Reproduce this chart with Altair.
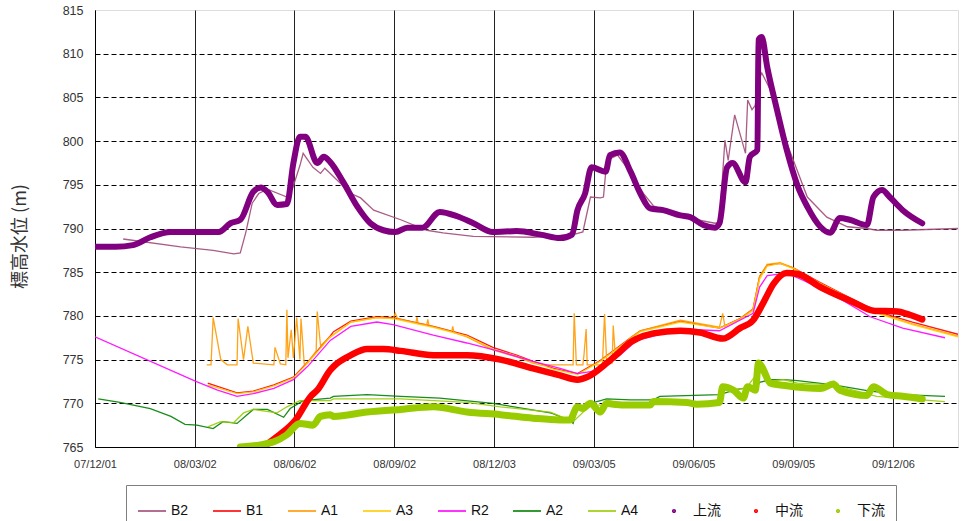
import altair as alt
import pandas as pd

# Series names (legend order) and their colours
SERIES = ["B2", "B1", "A1", "A3", "R2", "A2", "A4", "上流", "中流", "下流"]
COLORS = ["#A04A78", "#FF0000", "#FF9900", "#FFCC00", "#FF00FF",
          "#008000", "#99CC00", "#800080", "#FF0000", "#99CC00"]
THIN = SERIES[:7]
THICK = SERIES[7:]

# Axis ticks
Y_TICKS = [765, 770, 775, 780, 785, 790, 795, 800, 805, 810, 815]
X_TICKS = ["2007-12-01", "2008-03-02", "2008-06-02", "2008-09-02", "2008-12-03",
           "2009-03-05", "2009-06-05", "2009-09-05", "2009-12-06"]
X_DOMAIN = ["2007-12-01", "2010-02-04"]

# Observed water levels (date, elevation m)
b2 = [("2007-12-27", 788.8), ("2008-02-18", 787.9), ("2008-03-19", 787.5), ("2008-04-07", 787.1),
      ("2008-04-13", 787.2), ("2008-04-18", 789.5), ("2008-04-24", 792.9), ("2008-04-30", 794.0),
      ("2008-05-08", 794.5), ("2008-05-26", 793.6), ("2008-05-31", 794.5), ("2008-06-07", 797.2),
      ("2008-06-10", 798.6), ("2008-06-19", 797.0), ("2008-06-26", 796.3), ("2008-06-30", 796.9),
      ("2008-07-24", 794.0), ("2008-08-02", 793.5), ("2008-08-14", 792.1), ("2008-09-08", 791.0),
      ("2008-10-02", 789.8), ("2008-10-17", 789.5), ("2008-11-14", 789.1), ("2009-01-08", 789.0),
      ("2009-02-14", 789.3), ("2009-02-23", 789.6), ("2009-03-02", 793.6), ("2009-03-11", 793.5),
      ("2009-03-14", 793.6), ("2009-03-17", 797.8), ("2009-03-27", 798.4), ("2009-04-08", 796.4),
      ("2009-04-20", 794.0), ("2009-04-29", 792.6), ("2009-05-08", 792.2), ("2009-05-30", 791.4),
      ("2009-06-08", 791.0), ("2009-06-25", 790.6), ("2009-06-29", 790.7), ("2009-07-04", 800.1),
      ("2009-07-07", 797.8), ("2009-07-13", 803.0), ("2009-07-23", 798.6), ("2009-07-25", 804.7),
      ("2009-07-29", 803.6), ("2009-08-01", 804.1), ("2009-08-04", 807.0), ("2009-08-07", 807.8),
      ("2009-08-18", 805.1), ("2009-08-30", 799.8), ("2009-09-18", 793.6), ("2009-10-06", 791.3),
      ("2009-10-25", 790.2), ("2009-11-12", 790.0), ("2009-11-21", 789.8), ("2009-12-15", 789.8),
      ("2010-02-04", 790.0)]

b1 = [("2008-03-14", 772.3), ("2008-04-10", 771.2), ("2008-04-25", 771.4), ("2008-05-14", 772.1),
      ("2008-06-01", 773.0), ("2008-06-14", 774.7), ("2008-07-05", 777.7), ("2008-07-08", 778.2),
      ("2008-07-24", 779.4), ("2008-08-17", 779.9), ("2008-09-01", 779.8), ("2008-10-08", 778.8),
      ("2008-11-08", 777.8), ("2008-12-02", 776.4), ("2008-12-24", 775.5), ("2009-01-08", 774.8),
      ("2009-01-27", 774.0), ("2009-02-18", 773.4), ("2009-03-11", 774.9), ("2009-04-08", 777.5),
      ("2009-04-17", 778.3), ("2009-05-24", 779.4), ("2009-06-29", 778.6), ("2009-07-18", 779.7),
      ("2009-07-30", 780.8), ("2009-08-05", 784.5), ("2009-08-12", 785.8), ("2009-08-24", 786.0),
      ("2009-09-05", 785.5), ("2009-09-30", 783.8), ("2009-10-30", 781.9), ("2009-11-24", 780.4),
      ("2009-12-24", 779.3), ("2010-02-04", 777.9)]

a1 = [("2008-03-13", 774.4), ("2008-03-17", 774.4), ("2008-03-19", 779.8), ("2008-03-26", 775.0),
      ("2008-04-01", 774.4), ("2008-04-10", 774.4), ("2008-04-11", 779.7), ("2008-04-16", 775.0),
      ("2008-04-20", 778.8), ("2008-04-25", 774.6), ("2008-05-14", 774.4), ("2008-05-15", 776.4),
      ("2008-05-20", 774.5), ("2008-05-25", 774.4), ("2008-05-26", 780.7), ("2008-05-27", 775.2),
      ("2008-05-30", 778.4), ("2008-06-01", 775.2), ("2008-06-04", 779.8), ("2008-06-07", 775.0),
      ("2008-06-08", 779.7), ("2008-06-11", 774.5), ("2008-06-14", 774.6), ("2008-06-22", 776.0),
      ("2008-06-23", 780.5), ("2008-06-26", 776.6), ("2008-07-05", 777.6), ("2008-07-24", 779.3),
      ("2008-08-17", 779.8), ("2008-09-01", 779.7), ("2008-09-03", 780.3), ("2008-09-05", 779.7),
      ("2008-09-22", 779.2), ("2008-09-23", 779.9), ("2008-09-24", 779.1), ("2008-10-02", 779.0),
      ("2008-10-03", 779.6), ("2008-10-04", 778.9), ("2008-10-25", 778.2), ("2008-10-26", 778.8),
      ("2008-10-27", 778.1), ("2008-11-08", 777.6), ("2008-12-02", 776.1), ("2008-12-24", 775.3),
      ("2009-01-08", 774.6), ("2009-01-15", 774.4), ("2009-02-14", 774.4), ("2009-02-15", 780.3),
      ("2009-02-17", 774.4), ("2009-02-23", 774.4), ("2009-02-24", 775.5), ("2009-02-26", 778.5),
      ("2009-02-27", 774.4), ("2009-03-13", 774.4), ("2009-03-15", 780.2), ("2009-03-17", 774.6),
      ("2009-03-22", 774.6), ("2009-03-23", 778.9), ("2009-03-25", 775.3), ("2009-04-08", 777.5),
      ("2009-04-17", 778.3), ("2009-05-24", 779.5), ("2009-06-29", 778.7), ("2009-07-02", 780.3),
      ("2009-07-04", 778.8), ("2009-07-18", 779.7), ("2009-07-30", 780.8), ("2009-08-05", 784.5),
      ("2009-08-12", 785.9), ("2009-08-24", 786.1), ("2009-09-05", 785.5), ("2009-09-30", 783.7),
      ("2009-10-30", 781.8), ("2009-11-24", 780.3), ("2009-12-24", 779.1), ("2010-02-04", 777.7)]

a3 = [("2008-03-14", 772.1), ("2008-04-10", 771.1), ("2008-04-25", 771.3), ("2008-05-14", 772.0),
      ("2008-06-01", 772.9), ("2008-06-14", 774.6), ("2008-07-05", 777.6), ("2008-07-24", 779.3),
      ("2008-08-17", 779.8), ("2008-09-01", 779.7), ("2008-10-08", 778.7), ("2008-11-08", 777.7),
      ("2008-12-02", 776.2), ("2008-12-24", 775.4), ("2009-01-08", 774.7), ("2009-01-27", 773.9),
      ("2009-02-18", 773.3), ("2009-03-11", 774.8), ("2009-04-08", 777.4), ("2009-04-17", 778.2),
      ("2009-05-24", 779.3), ("2009-06-29", 778.6), ("2009-07-18", 779.6), ("2009-07-30", 780.6),
      ("2009-08-05", 784.2), ("2009-08-12", 785.7), ("2009-08-24", 786.0), ("2009-09-05", 785.4),
      ("2009-09-30", 783.7), ("2009-10-30", 781.8), ("2009-11-24", 780.2), ("2009-12-24", 779.0),
      ("2010-02-04", 777.6)]

r2 = [("2007-12-01", 777.6), ("2008-03-03", 772.5), ("2008-03-23", 771.5), ("2008-04-10", 770.8),
      ("2008-04-25", 771.1), ("2008-05-14", 771.7), ("2008-06-01", 772.7), ("2008-06-14", 774.2),
      ("2008-07-05", 777.2), ("2008-07-24", 778.8), ("2008-08-17", 779.3), ("2008-09-01", 779.0),
      ("2008-10-08", 777.8), ("2008-11-08", 776.9), ("2008-12-09", 775.9), ("2009-01-08", 774.8),
      ("2009-02-02", 774.0), ("2009-02-18", 773.4), ("2009-03-11", 773.8), ("2009-03-29", 775.5),
      ("2009-04-14", 777.2), ("2009-05-24", 778.5), ("2009-06-29", 778.3), ("2009-07-30", 780.3),
      ("2009-08-05", 783.3), ("2009-08-12", 784.6), ("2009-08-30", 784.9), ("2009-09-14", 784.1),
      ("2009-10-15", 782.2), ("2009-11-15", 779.9), ("2009-12-15", 778.6), ("2010-01-23", 777.5)]

a2 = [("2007-12-04", 770.5), ("2007-12-24", 770.1), ("2008-01-21", 769.4), ("2008-02-09", 768.5),
      ("2008-02-22", 767.6), ("2008-03-04", 767.5), ("2008-03-19", 767.1), ("2008-03-28", 767.9),
      ("2008-04-10", 767.7), ("2008-04-25", 769.3), ("2008-05-08", 769.3), ("2008-05-23", 768.4),
      ("2008-05-29", 769.4), ("2008-06-10", 770.3), ("2008-07-05", 770.6), ("2008-07-08", 770.8),
      ("2008-08-08", 771.0), ("2008-09-08", 770.8), ("2008-10-14", 770.6), ("2008-12-02", 770.0),
      ("2009-01-24", 768.9), ("2009-01-27", 768.8), ("2009-02-11", 768.0), ("2009-02-14", 767.7),
      ("2009-02-18", 769.6), ("2009-03-02", 770.0), ("2009-03-17", 770.5), ("2009-04-08", 770.4),
      ("2009-04-29", 770.4), ("2009-05-05", 770.8), ("2009-06-29", 771.0), ("2009-07-15", 771.6),
      ("2009-08-03", 771.9), ("2009-08-05", 772.4), ("2009-08-15", 772.7), ("2009-08-27", 772.7),
      ("2009-09-09", 772.6), ("2009-10-12", 772.1), ("2009-11-15", 771.4), ("2009-12-15", 771.0),
      ("2010-01-23", 770.8)]

a4 = [("2008-03-14", 767.3), ("2008-03-26", 767.9), ("2008-04-07", 767.8), ("2008-04-16", 768.9),
      ("2008-04-25", 769.3), ("2008-05-17", 768.9), ("2008-05-26", 769.6), ("2008-06-07", 770.3),
      ("2008-06-17", 770.3), ("2008-07-05", 770.3), ("2008-07-08", 770.5), ("2008-09-08", 770.5),
      ("2008-11-08", 770.1), ("2008-12-09", 769.6), ("2009-01-24", 769.0), ("2009-02-14", 767.9),
      ("2009-03-02", 769.8), ("2009-03-14", 769.8), ("2009-03-17", 770.2), ("2009-04-08", 770.0),
      ("2009-06-29", 770.0), ("2009-07-02", 771.9), ("2009-07-12", 771.5), ("2009-07-24", 771.8),
      ("2009-08-05", 773.8), ("2009-08-12", 772.5), ("2009-08-27", 772.7), ("2009-09-09", 772.3),
      ("2009-10-12", 772.1), ("2009-11-21", 770.8), ("2010-01-23", 770.2)]

upstream = [("2007-12-01", 787.9), ("2007-12-20", 787.9), ("2008-01-05", 788.1), ("2008-01-21", 789.0),
            ("2008-02-09", 789.6), ("2008-03-24", 789.6), ("2008-04-04", 790.6), ("2008-04-13", 791.0),
            ("2008-04-25", 794.2), ("2008-05-02", 794.7), ("2008-05-08", 794.2), ("2008-05-17", 792.7),
            ("2008-05-26", 792.8), ("2008-06-01", 797.5), ("2008-06-07", 800.5), ("2008-06-12", 800.5),
            ("2008-06-23", 797.5), ("2008-06-29", 798.2), ("2008-07-05", 797.6), ("2008-07-17", 795.3),
            ("2008-07-30", 792.5), ("2008-08-11", 790.6), ("2008-08-23", 789.8), ("2008-09-03", 789.6),
            ("2008-09-14", 790.1), ("2008-09-28", 790.1), ("2008-10-14", 791.9), ("2008-10-30", 791.4),
            ("2008-11-14", 790.6), ("2008-12-02", 789.6), ("2008-12-24", 789.7), ("2009-01-15", 789.3),
            ("2009-02-02", 788.9), ("2009-02-13", 789.3), ("2009-02-18", 792.1), ("2009-02-25", 794.0),
            ("2009-03-03", 797.0), ("2009-03-16", 796.5), ("2009-03-20", 798.4), ("2009-03-29", 798.7),
            ("2009-04-08", 796.5), ("2009-04-17", 794.0), ("2009-04-26", 792.3), ("2009-05-08", 792.1),
            ("2009-05-24", 791.5), ("2009-06-02", 791.3), ("2009-06-14", 790.4), ("2009-06-25", 790.1),
            ("2009-06-29", 790.6), ("2009-07-06", 797.0), ("2009-07-11", 797.5), ("2009-07-23", 795.3),
            ("2009-07-27", 798.2), ("2009-08-03", 799.0), ("2009-08-04", 811.6), ("2009-08-07", 811.9),
            ("2009-08-12", 808.5), ("2009-08-21", 803.6), ("2009-08-30", 799.0), ("2009-09-09", 794.9),
            ("2009-09-18", 792.5), ("2009-09-30", 790.2), ("2009-10-09", 789.5), ("2009-10-18", 791.2),
            ("2009-10-27", 791.0), ("2009-11-12", 790.4), ("2009-11-18", 793.6), ("2009-11-26", 794.4),
            ("2009-12-03", 793.6), ("2009-12-15", 792.1), ("2010-01-02", 790.6)]

midstream = [("2008-05-04", 765.0), ("2008-05-17", 766.2), ("2008-06-03", 768.1), ("2008-06-17", 770.8),
             ("2008-06-23", 771.5), ("2008-07-05", 773.8), ("2008-07-08", 774.2), ("2008-07-24", 775.5),
             ("2008-08-08", 776.2), ("2008-08-23", 776.2), ("2008-09-08", 776.0), ("2008-10-08", 775.5),
             ("2008-11-08", 775.5), ("2008-12-09", 775.0), ("2009-01-08", 774.0), ("2009-02-02", 773.2),
             ("2009-02-18", 772.7), ("2009-02-27", 773.0), ("2009-03-17", 774.6), ("2009-03-29", 775.9),
             ("2009-04-08", 777.0), ("2009-04-14", 777.4), ("2009-04-29", 778.0), ("2009-05-24", 778.3),
             ("2009-06-11", 778.1), ("2009-07-02", 777.4), ("2009-07-18", 778.6), ("2009-07-30", 779.5),
             ("2009-08-08", 781.4), ("2009-08-18", 783.7), ("2009-08-30", 784.9), ("2009-09-09", 784.8),
             ("2009-09-30", 783.3), ("2009-10-30", 781.6), ("2009-11-18", 780.6), ("2009-12-10", 780.5),
             ("2009-12-22", 780.1), ("2010-01-02", 779.6)]

downstream = [("2008-04-13", 765.0), ("2008-05-04", 765.3), ("2008-05-14", 765.6), ("2008-05-26", 766.4),
              ("2008-06-07", 767.7), ("2008-06-19", 767.5), ("2008-06-26", 768.5), ("2008-07-05", 768.7),
              ("2008-07-08", 768.5), ("2008-08-08", 769.0), ("2008-09-08", 769.3), ("2008-10-08", 769.6),
              ("2008-11-08", 769.0), ("2008-12-09", 768.7), ("2009-01-08", 768.3), ("2009-02-02", 768.1),
              ("2009-02-11", 768.1), ("2009-02-18", 769.6), ("2009-02-23", 769.4), ("2009-03-02", 770.0),
              ("2009-03-11", 769.0), ("2009-03-17", 770.0), ("2009-03-23", 769.9), ("2009-04-08", 769.8),
              ("2009-04-26", 769.8), ("2009-04-29", 770.2), ("2009-05-30", 770.1), ("2009-06-08", 769.9),
              ("2009-06-29", 770.1), ("2009-07-02", 771.9), ("2009-07-12", 771.5), ("2009-07-21", 770.6),
              ("2009-07-25", 771.9), ("2009-08-01", 771.5), ("2009-08-04", 774.6), ("2009-08-07", 774.2),
              ("2009-08-15", 772.3), ("2009-08-30", 772.0), ("2009-09-30", 771.7), ("2009-10-12", 772.2),
              ("2009-10-18", 771.5), ("2009-11-12", 770.9), ("2009-11-18", 771.9), ("2009-12-01", 771.0),
              ("2009-12-15", 770.8), ("2010-01-02", 770.5)]

series_data = {"B2": b2, "B1": b1, "A1": a1, "A3": a3, "R2": r2, "A2": a2, "A4": a4,
               "上流": upstream, "中流": midstream, "下流": downstream}

rows = []
for name in SERIES:
    for d, v in series_data[name]:
        rows.append({"series": name, "key": name, "date": d, "level": v})
df = pd.DataFrame(rows)


def utc_dt(s):
    y, m, d = (int(p) for p in s.split("-"))
    return alt.DateTime(year=y, month=m, date=d, utc=True)


LATIN = "Liberation Sans"
CJK = "Noto Sans CJK JP"
MIXED = "Liberation Sans, Noto Sans CJK JP"

x_enc = alt.X(
    "date:T",
    scale=alt.Scale(type="utc", domain=[utc_dt(s) for s in X_DOMAIN]),
    axis=alt.Axis(
        values=[utc_dt(s) for s in X_TICKS],
        labelExpr="utcFormat(datum.value, '%y/%m/%d')",
        title=None, ticks=False, tickSize=0, labelPadding=11,
        labelFont=LATIN, labelFontSize=11, labelColor="#333333",
        grid=True, gridColor="#222222", gridWidth=1,
        domainColor="#000000", domainWidth=1, labelFlush=False,
    ),
)

y_enc = alt.Y(
    "level:Q",
    scale=alt.Scale(domain=[765, 815], nice=False, zero=False),
    axis=alt.Axis(
        values=Y_TICKS, format="d",
        title="標高水位 (m)", titleFont=CJK, titleFontSize=18, titleFontWeight="normal",
        titleColor="#333333", titleX=-75, titleY=226, titleAngle=270,
        titleAlign="center", titleBaseline="middle",
        ticks=False, tickSize=0, labelPadding=12,
        labelFont=LATIN, labelFontSize=12.5, labelColor="#333333",
        grid=True, gridColor="#000000", gridDash=[5, 3], gridWidth=1,
        gridOpacity={"condition": {"test": "datum.value == 765 || datum.value == 815", "value": 0},
                     "value": 1},
        domainColor="#000000", domainWidth=1,
    ),
)

line_colors = alt.Scale(domain=SERIES, range=COLORS)

thin_lines = alt.Chart(df).transform_filter(
    alt.FieldOneOfPredicate(field="series", oneOf=THIN)
).mark_line(strokeWidth=1.3, clip=True, opacity=0.9).encode(
    x=x_enc, y=y_enc,
    color=alt.Color("series:N", scale=line_colors, legend=None),
)

thick_lines = alt.Chart(df).transform_filter(
    alt.FieldOneOfPredicate(field="series", oneOf=THICK)
).mark_line(clip=True, strokeCap="round", strokeJoin="round", interpolate="monotone").encode(
    x=x_enc, y=y_enc,
    color=alt.Color("series:N", scale=line_colors, legend=None),
    strokeWidth=alt.StrokeWidth("series:N", scale=alt.Scale(domain=THICK, range=[6, 7, 6]),
                                legend=None),
)

# Legend symbols: short strokes for the lines, small dots for the point series
LINE_SYM = "M-1,0H1"
DOT_SYM = "M-0.09,0A0.09,0.09,0,1,1,0.09,0A0.09,0.09,0,1,1,-0.09,0Z"
legend_shapes = [LINE_SYM] * 7 + [DOT_SYM] * 3

legend_props = dict(
    title=None, orient="none", legendX=31, legendY=475, direction="horizontal",
    columns=10, columnPadding=20, padding=11,
    strokeColor="#7F7F7F", fillColor="#FFFFFF",
    symbolSize=784, symbolStrokeWidth=1.6, symbolOpacity=1, labelOffset=4,
    labelFont=MIXED, labelFontSize=14, labelColor="#111111",
)

legend_layer = alt.Chart(df).mark_point(filled=False, opacity=0, clip=True).encode(
    x=x_enc, y=y_enc,
    color=alt.Color("key:N", scale=alt.Scale(domain=SERIES, range=COLORS),
                    legend=alt.Legend(**legend_props)),
    shape=alt.Shape("key:N", scale=alt.Scale(domain=SERIES, range=legend_shapes),
                    legend=alt.Legend(**legend_props)),
)

chart = alt.layer(thin_lines, thick_lines, legend_layer).resolve_scale(
    color="independent", strokeWidth="independent", shape="independent",
).resolve_legend(
    color="independent", shape="independent",
).properties(
    width=863, height=437,
    autosize=alt.AutoSizeParams(type="none"),
    padding={"left": 95, "top": 10, "right": 11, "bottom": 74},
).configure_view(
    stroke="#B3B3B3", strokeWidth=1.5,
).configure(
    background="#FFFFFF",
)

chart.save("out.html", embed_options={"renderer": "svg", "actions": False})
